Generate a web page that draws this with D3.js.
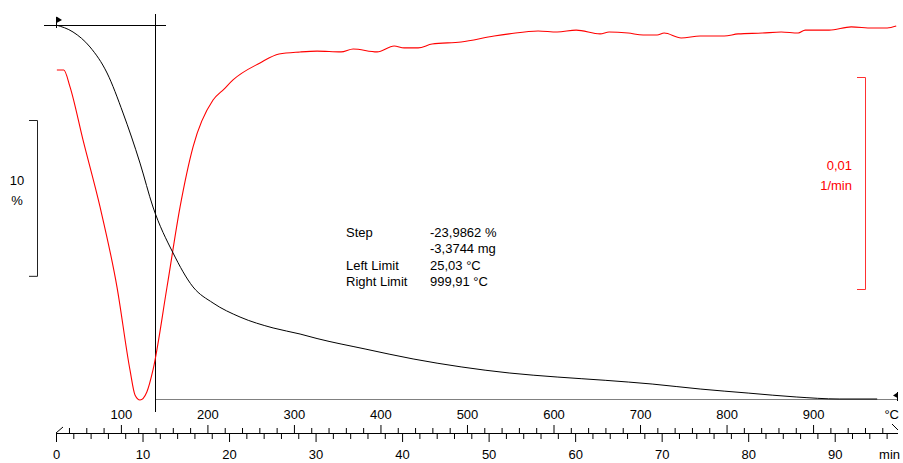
<!DOCTYPE html>
<html><head><meta charset="utf-8">
<script src="https://cdn.jsdelivr.net/npm/d3@7"></script>
<style>
body{margin:0;background:#fff}
svg{display:block}
text{font-family:"Liberation Sans",Arial,sans-serif;font-size:13px;fill:#000}
</style>
</head><body><svg id="c" width="903" height="463"></svg>
<script>
// ---- data ----
const tgTime = [0, 1.97, 3.93, 5.90, 7.75, 9.71, 11.21, 13.53, 15.84, 18.15, 21.27, 25.09, 28.21, 30.17, 35.72, 41.27, 46.82, 52.37, 57.92, 63.47, 68.90, 74.45, 80.00, 85.55, 90.52, 94.91];
const tgMass = [100.00, 99.55, 98.59, 96.92, 94.35, 91.14, 88.32, 85.37, 83.19, 82.16, 81.26, 80.56, 80.17, 79.88, 79.21, 78.57, 78.06, 77.67, 77.41, 77.20, 76.96, 76.64, 76.38, 76.13, 76.00, 76.00];

const dtgTime = [0.10, 0.90, 1.62, 3.12, 5.09, 7.05, 8.55, 9.13, 9.71, 10.50, 11.21, 12.83, 14.34, 15.84, 18.15, 19.42, 20.46, 23.58, 25.78, 28.21, 30.17, 32.95, 34.34, 37.11, 39.08, 40.23, 41.85, 43.47, 46.82, 50.64, 52.37, 55.72, 57.92, 60.12, 62.89, 63.93, 66.13, 67.86, 69.48, 70.29, 72.25, 74.45, 77.23, 78.84, 81.62, 83.82, 85.78, 86.59, 89.36, 91.91, 94.34, 96.07, 97.11];
const dtgValue = [-0.00212, -0.00212, -0.00292, -0.00542, -0.00858, -0.01236, -0.01627, -0.01745, -0.01769, -0.01731, -0.01627, -0.01236, -0.00858, -0.00575, -0.00354, -0.00302, -0.00259, -0.00179, -0.00137, -0.00127, -0.00123, -0.00127, -0.00113, -0.00127, -0.00099, -0.00108, -0.00108, -0.00090, -0.00080, -0.00052, -0.00042, -0.00028, -0.00033, -0.00024, -0.00042, -0.00033, -0.00038, -0.00047, -0.00047, -0.00038, -0.00061, -0.00052, -0.00052, -0.00042, -0.00038, -0.00033, -0.00038, -0.00024, -0.00024, -0.00009, -0.00014, -0.00014, -0.00005];

const timeLabels = [0, 10, 20, 30, 40, 50, 60, 70, 80, 90];
const tempLabels = [100, 200, 300, 400, 500, 600, 700, 800, 900];
const stepLabels = ["Step", "", "Left Limit", "Right Limit"];
const stepValues = ["-23,9862 %", "-3,3744 mg", "25,03 \u00B0C", "999,91 \u00B0C"];
const evalTime = 11.4;   // vertical evaluation line (min)

// ---- scales ----
const tMax = 97.2;
const x = d3.scaleLinear().domain([0, tMax]).range([56, 897]);
const xT = d3.scaleLinear().domain([25, 25 + 10 * tMax]).range([56, 897]);
const yTG = d3.scaleLinear().domain([100, 76]).range([25, 399]);
const yDTG = d3.scaleLinear().domain([0, -0.01]).range([25, 237]);

const svg = d3.select("#c");
const axisY = 433;

// ---- baseline & eval lines ----
const ex = Math.round(x(evalTime)) + 0.5;
svg.append("line").attr("x1", ex).attr("x2", 897).attr("y1", 399.5).attr("y2", 399.5)
  .attr("stroke", "#808080").attr("stroke-width", 1.2);
svg.append("line").attr("x1", 44).attr("x2", 166).attr("y1", 25.5).attr("y2", 25.5)
  .attr("stroke", "#000");
svg.append("line").attr("x1", ex).attr("x2", ex).attr("y1", 14).attr("y2", 412)
  .attr("stroke", "#000");

// ---- curves ----
const dtgData = dtgTime.map((t, i) => [t, dtgValue[i]]);
const tgData = tgTime.map((t, i) => [t, tgMass[i]]);
svg.append("path").datum(dtgData)
  .attr("fill", "none").attr("stroke", "#ff0000").attr("stroke-width", 1.1)
  .attr("d", d3.line().x(d => x(d[0])).y(d => yDTG(d[1])).curve(d3.curveMonotoneX));
svg.append("path").datum(tgData)
  .attr("fill", "none").attr("stroke", "#000").attr("stroke-width", 1)
  .attr("d", d3.line().x(d => x(d[0])).y(d => yTG(d[1])).curve(d3.curveMonotoneX));

// flags
svg.append("line").attr("x1", 56.5).attr("x2", 56.5).attr("y1", 17).attr("y2", 28).attr("stroke", "#000");
svg.append("path").attr("d", "M56.5,16.5 L62,20 L56.5,23 Z").attr("fill", "#000");
svg.append("line").attr("x1", 897.5).attr("x2", 897.5).attr("y1", 392).attr("y2", 401).attr("stroke", "#000");
svg.append("path").attr("d", "M897.5,392.5 L893,395.5 L897.5,398 Z").attr("fill", "#000");

// ---- scale bars ----
const tgBarTop = 120, tgBarLen = yTG(90) - yTG(100);
svg.append("path").attr("fill", "none").attr("stroke", "#222")
  .attr("d", `M29,${tgBarTop + 0.5} H37.5 V${tgBarTop + tgBarLen + 0.5} H29`);
svg.append("text").attr("x", 17).attr("y", 185).attr("text-anchor", "middle").text("10");
svg.append("text").attr("x", 17).attr("y", 205).attr("text-anchor", "middle").text("%");

const dtgBarTop = 77, dtgBarLen = yDTG(-0.01) - yDTG(0);
svg.append("path").attr("fill", "none").attr("stroke", "#ff3030")
  .attr("d", `M857,${dtgBarTop + 0.5} H865.5 V${dtgBarTop + dtgBarLen + 0.5} H857`);
svg.append("text").attr("x", 852).attr("y", 170).attr("text-anchor", "end").style("fill", "#ff0000").text("0,01");
svg.append("text").attr("x", 852).attr("y", 190).attr("text-anchor", "end").style("fill", "#ff0000").text("1/min");

// ---- step annotation ----
stepLabels.forEach((s, i) => {
  const by = 237 + i * 16.4;
  if (s) svg.append("text").attr("x", 346).attr("y", by).text(s);
  svg.append("text").attr("x", 430).attr("y", by).text(stepValues[i]);
});

// ---- axes ----
const gAx = svg.append("g").attr("transform", `translate(0,${axisY})`);
function styleAxis(g) {
  g.select(".domain").remove();
  g.selectAll("line").attr("stroke", "#000");
  g.selectAll("text").attr("font-family", null).attr("font-size", null).style("fill", "#000");
  g.attr("font-family", null).attr("font-size", null);
}
// temperature (ticks up)
gAx.append("g").call(d3.axisTop(xT).tickValues(d3.range(40, 1000, 20).filter(v => v % 100 !== 0)).tickSize(5).tickSizeOuter(0).tickFormat("")).call(styleAxis);
gAx.append("g").call(d3.axisTop(xT).tickValues(tempLabels).tickSize(8).tickSizeOuter(0).tickPadding(6).tickFormat(d => d)).call(styleAxis);
// time (ticks down)
gAx.append("g").call(d3.axisBottom(x).tickValues(d3.range(0, 97, 2).filter(v => v % 10 !== 0)).tickSize(6).tickSizeOuter(0).tickFormat("")).call(styleAxis);
const tAx = gAx.append("g").call(d3.axisBottom(x).tickValues(timeLabels).tickSize(9).tickSizeOuter(0).tickFormat(d => d)).call(styleAxis);
tAx.selectAll("text").attr("dy", null).attr("y", 26);
// axis line
gAx.append("line").attr("x1", 56).attr("x2", 898).attr("y1", 0.5).attr("y2", 0.5).attr("stroke", "#000");
gAx.append("line").attr("x1", 56).attr("y1", 0).attr("x2", 63).attr("y2", -6).attr("stroke", "#000");
gAx.append("line").attr("x1", 892).attr("y1", -9).attr("x2", 898).attr("y2", -3).attr("stroke", "#000");
svg.append("text").attr("x", 899).attr("y", 419).attr("text-anchor", "end").text("\u00B0C");
svg.append("text").attr("x", 900).attr("y", 459).attr("text-anchor", "end").text("min");
</script>
</body></html>
